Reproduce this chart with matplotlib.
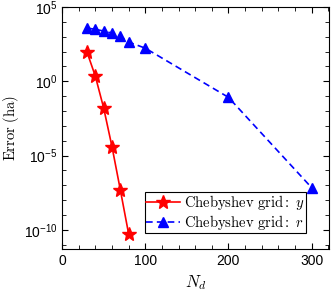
import matplotlib.pyplot as plt
import numpy as np
from matplotlib.ticker import FixedLocator, NullFormatter, LogFormatterMathtext

nd_y = [30, 40, 50, 60, 70, 80]
err_y = [10**1.96, 10**0.34, 10**-1.8, 10**-4.4, 10**-7.3, 10**-10.27]

nd_r = [30, 40, 50, 60, 70, 80, 100, 200, 300]
err_r = [10**3.58, 10**3.5, 10**3.38, 10**3.24, 10**3.04, 10**2.64, 10**2.23, 10**-1.08, 10**-7.16]

plt.rcParams['mathtext.fontset'] = 'cm'
plt.rcParams['font.family'] = 'Liberation Sans'

fig = plt.figure(figsize=(3.32, 2.92), dpi=100)
ax = fig.add_axes([0.187, 0.147, 0.804, 0.829])

ax.plot(nd_y, err_y, 'r-', marker='*', markersize=10, lw=1.2,
        label=r'$\mathrm{Chebyshev\ grid{:}}\ y$')
ax.plot(nd_r, err_r, 'b--', marker='^', markersize=7, lw=1.2, dashes=(4, 2.5),
        label=r'$\mathrm{Chebyshev\ grid{:}}\ r$')

ax.set_yscale('log')
ax.set_xlim(0, 321)
ax.set_ylim(10**-11.3, 1e5)
ax.set_xticks([0, 100, 200, 300])
ax.xaxis.set_minor_locator(FixedLocator(np.arange(0, 321, 20)))
ax.yaxis.set_major_locator(FixedLocator([1e-10, 1e-5, 1e0, 1e5]))
ax.yaxis.set_major_formatter(LogFormatterMathtext())
ax.yaxis.set_minor_locator(FixedLocator([10.0**k for k in range(-11, 5)]))
ax.yaxis.set_minor_formatter(NullFormatter())
ax.tick_params(which='both', direction='in', top=True, right=True, labelsize=10)
ax.tick_params(which='major', length=4)
ax.tick_params(which='minor', length=3)

ax.set_xlabel('$N_d$', fontsize=12)
ax.set_ylabel(r'$\mathrm{Error\ (ha)}$', fontsize=10.5, labelpad=2)

leg = ax.legend(loc='lower right', bbox_to_anchor=(0.915, 0.065), prop={'size': 10.5},
                fancybox=False, edgecolor='black', handlelength=2.3, borderpad=0.1, labelspacing=0.05,
                handletextpad=0.3, borderaxespad=0.0, framealpha=1)
leg.get_frame().set_linewidth(0.8)

fig.savefig('out.png', dpi=100)
